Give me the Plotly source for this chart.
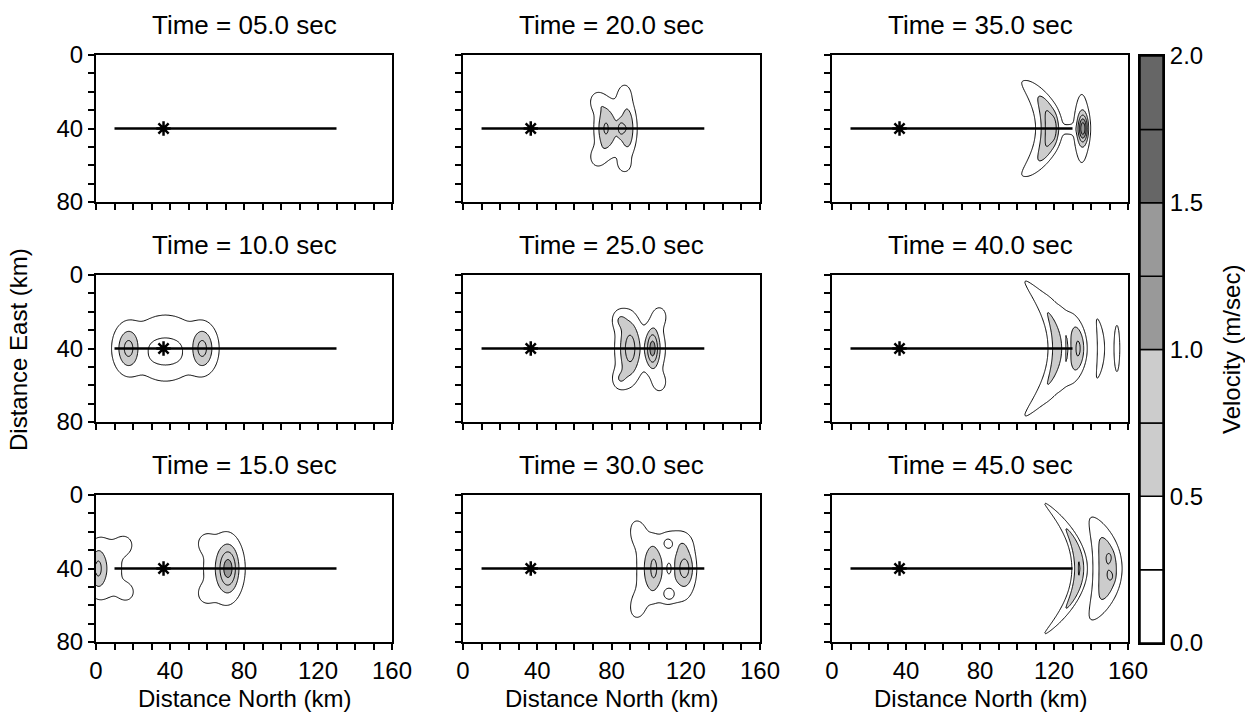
import numpy as np
import plotly.graph_objects as go

# Snapshot times (s), arranged column by column
times = [5, 10, 15, 20, 25, 30, 35, 40, 45]

# Fault trace and hypocentre (km)
fault_north = [10, 130]
fault_east = [40, 40]
hypo_north = [36.5]
hypo_east = [40]

# Velocity lobes making up each snapshot:
# time, centre north/east (km), peak (m/s), widths north/east (km), front curvature
lobe_time = [10, 10, 10, 10, 10, 10,
             15, 15, 15, 15, 15, 15, 15, 15,
             20, 20, 20, 20, 20, 20, 20, 20,
             25, 25, 25, 25, 25, 25, 25, 25, 25,
             30, 30, 30, 30, 30, 30, 30, 30, 30, 30, 30,
             35, 35, 35, 35, 35, 35,
             40, 40, 40, 40, 40, 40,
             45, 45, 45, 45]
lobe_north = [37.5, 37.5, 18, 14, 57, 61,
              1, 4, 16, 17, 71.5, 69, 59, 59,
              82, 76.5, 89, 85, 72, 87, 72, 87,
              96, 87, 90.5, 102, 105, 84, 84, 106, 106,
              110, 98, 103, 119.5, 121, 111, 111, 111, 94, 94, 118,
              117, 118, 120, 135.7, 135, 128,
              126, 121, 133.5, 127, 145.5, 154,
              133.5, 149, 150, 151]
lobe_east = [40, 41, 40, 40, 40, 40,
             40, 40, 27, 53, 40, 40, 26, 54,
             40, 40, 40, 40, 25, 21, 56, 60,
             40, 40, 40, 40, 40, 24, 57, 22, 59,
             40, 40, 40, 40, 40, 40, 27, 53, 20, 61, 26,
             40, 40, 40, 40, 40, 40.5,
             40, 40, 40, 40, 40, 40,
             40, 40, 33.6, 44.5]
lobe_peak = [0.45, -0.3, 0.45, 0.22, 0.45, 0.22,
             0.4, 0.45, 0.28, 0.28, 0.7, 0.45, 0.25, 0.25,
             0.45, 0.4, 0.4, 0.45, 0.3, 0.3, 0.3, 0.3,
             0.22, 0.3, 0.45, 0.75, 0.25, 0.3, 0.3, 0.3, 0.3,
             0.45, 0.3, 0.35, 0.4, 0.25, -0.3, -0.25, -0.25, 0.3, 0.3, 0.15,
             0.45, 0.45, 0.2, 1.0, 0.45, 0.25,
             0.45, 0.3, 0.5, -0.25, 0.4, 0.4,
             0.75, 0.74, 0.15, 0.15]
lobe_wn = [18, 8, 3.5, 5, 3.5, 5,
           2.5, 9, 3.5, 3.5, 3.5, 10, 3, 3,
           9, 3, 2.5, 1.2, 3, 2.5, 3, 2.5,
           9, 5, 3.5, 2.3, 4.5, 3, 3, 3, 3,
           9, 4, 2.3, 3, 4, 1.5, 2, 2, 3, 3, 4,
           6, 3.2, 1.2, 1.8, 3.5, 2.5,
           8, 1.8, 2.5, 1, 1.8, 1.6,
           2.6, 5.3, 1.2, 1.2]
lobe_we = [17, 6.5, 7, 10, 7, 10,
           7, 15, 4, 4, 8, 17, 3.5, 3.5,
           13, 9, 10, 2.5, 4, 4, 4, 3,
           13, 15, 12, 7, 12, 4, 4, 4, 4,
           18, 16, 10, 6, 12, 3.5, 2, 2, 5, 5, 4,
           22, 14, 5, 5, 17, 2,
           30, 18, 10, 10, 16, 13,
           24, 19, 2, 2]
lobe_bend = [0, 0, 0, 0, 0, 0,
             0, 0, 0, 0, 0, 0, 0, 0,
             0, 0, 0, 0, 0, 0, 0, 0,
             0, 0, 0, 0, 0, 0, 0, 0, 0,
             0, 0.01, 0.004, 0, 0, 0, 0, 0, 0, 0, 0,
             0.022, 0.015, 0, 0, 0, 0,
             0.016, 0.012, 0.008, 0.01, 0.008, 0,
             0.0145, 0.0104, 0, 0]

# Contour levels (m/s), colour-bar bands and labels
level_start, level_end, level_step = 0.25, 1.75, 0.25
band_base = [0.0, 0.25, 0.5, 0.75, 1.0, 1.25, 1.5, 1.75]
band_color = ["#ffffff", "#ffffff", "#cccccc", "#cccccc",
              "#999999", "#999999", "#666666", "#666666"]
cbar_ticks = [0.0, 0.5, 1.0, 1.5, 2.0]

north_ticks = list(range(0, 161, 10))
east_ticks = list(range(0, 81, 10))

FONT = "Liberation Sans, Arial, sans-serif"
W, H = 1245, 719
col_px = [(96, 392), (463, 760), (832, 1128)]
row_px = [(55, 202), (275, 422), (495, 642)]
cbar_px = (1140, 1163, 56, 643)

north = np.arange(0, 160.01, 0.5)
east = np.arange(0, 80.01, 0.5)
N, E = np.meshgrid(north, east)


def snapshot(t):
    z = np.zeros_like(N)
    for i, lt in enumerate(lobe_time):
        if lt != t:
            continue
        xc = lobe_north[i] - lobe_bend[i] * (E - lobe_east[i]) ** 2
        z += lobe_peak[i] * np.exp(-0.5 * (((N - xc) / lobe_wn[i]) ** 2
                                           + ((E - lobe_east[i]) / lobe_we[i]) ** 2))
    return np.round(z, 3)


grey_scale = [[0.0, "#ffffff"], [0.25, "#ffffff"],
              [0.25, "#cccccc"], [0.5, "#cccccc"],
              [0.5, "#999999"], [0.75, "#999999"],
              [0.75, "#666666"], [1.0, "#666666"]]

axis_common = dict(showline=True, linecolor="black", linewidth=2, mirror=True,
                   ticks="outside", ticklen=6, tickwidth=2, tickcolor="black",
                   tickfont=dict(size=24), showgrid=False, zeroline=False)

fig = go.Figure()
layout = dict(width=W, height=H, margin=dict(l=0, r=0, t=0, b=0, autoexpand=False),
              paper_bgcolor="white", plot_bgcolor="white", showlegend=False,
              barmode="overlay",
              font=dict(family=FONT, size=24, color="black"), annotations=[])

for idx, t in enumerate(times):
    col, row = idx // 3, idx % 3
    k = idx + 1
    xs = "x" if k == 1 else f"x{k}"
    ys = "y" if k == 1 else f"y{k}"
    x0, x1 = col_px[col]
    y0, y1 = row_px[row]

    fig.add_trace(go.Contour(
        x=north, y=east, z=snapshot(t), xaxis=xs, yaxis=ys,
        autocontour=False,
        contours=dict(start=level_start, end=level_end, size=level_step, coloring="fill"),
        colorscale=grey_scale, zmin=0, zmax=2,
        line=dict(color="black", width=1, smoothing=1),
        showscale=False, hoverinfo="skip"))
    fig.add_trace(go.Scatter(x=fault_north, y=fault_east, xaxis=xs, yaxis=ys,
                             mode="lines", line=dict(color="black", width=2.5),
                             hoverinfo="skip"))
    fig.add_trace(go.Scatter(x=hypo_north, y=hypo_east, xaxis=xs, yaxis=ys,
                             mode="markers",
                             marker=dict(symbol="asterisk-open", size=12, color="black",
                                         line=dict(color="black", width=2.5)),
                             hoverinfo="skip"))

    axname = "xaxis" if k == 1 else f"xaxis{k}"
    ayname = "yaxis" if k == 1 else f"yaxis{k}"
    layout[axname] = dict(axis_common, domain=[x0 / W, x1 / W], anchor=ys, range=[0, 160],
                          tickvals=north_ticks,
                          ticktext=[(str(v) if (v % 40 == 0 and row == 2) else "")
                                    for v in north_ticks])
    layout[ayname] = dict(axis_common, domain=[1 - y1 / H, 1 - y0 / H], anchor=xs,
                          range=[80, 0], tickvals=east_ticks,
                          ticktext=[(str(v) if (v % 40 == 0 and col == 0) else "")
                                    for v in east_ticks])

    layout["annotations"].append(dict(
        text=f"Time = {t:04.1f} sec", xref="paper", yref="paper",
        x=(x0 + x1) / 2 / W, y=1 - (y0 - 30) / H, xanchor="center", yanchor="middle",
        showarrow=False, font=dict(size=26)))
    if row == 2:
        layout["annotations"].append(dict(
            text="Distance North (km)", xref="paper", yref="paper",
            x=(x0 + x1) / 2 / W, y=1 - 698 / H, xanchor="center", yanchor="middle",
            showarrow=False, font=dict(size=24)))

# Colour bar drawn as stacked bands on its own axis
cx0, cx1, cy0, cy1 = cbar_px
fig.add_trace(go.Bar(x=[0] * len(band_base), y=[level_step] * len(band_base), base=band_base,
                     width=1, xaxis="x10", yaxis="y10",
                     marker=dict(color=band_color, line=dict(color="black", width=1.5)),
                     hoverinfo="skip"))
layout["xaxis10"] = dict(domain=[cx0 / W, cx1 / W], anchor="y10", range=[-0.5, 0.5],
                         showline=True, linecolor="black", linewidth=2, mirror=True,
                         ticks="", showticklabels=False, showgrid=False, zeroline=False)
layout["yaxis10"] = dict(domain=[1 - cy1 / H, 1 - cy0 / H], anchor="x10", range=[0, 2],
                         side="right", showline=True, linecolor="black", linewidth=2,
                         mirror=True, ticks="", tickvals=cbar_ticks,
                         ticktext=[f"{v:.1f}" for v in cbar_ticks], tickfont=dict(size=24),
                         showgrid=False, zeroline=False)

layout["annotations"].append(dict(
    text="Distance East (km)", xref="paper", yref="paper", x=18 / W, y=1 - 350 / H,
    xanchor="center", yanchor="middle", textangle=-90, showarrow=False, font=dict(size=24)))
layout["annotations"].append(dict(
    text="Velocity (m/sec)", xref="paper", yref="paper", x=1231 / W, y=1 - 350 / H,
    xanchor="center", yanchor="middle", textangle=-90, showarrow=False, font=dict(size=24)))

fig.update_layout(**layout)
fig.write_html("out.html")
